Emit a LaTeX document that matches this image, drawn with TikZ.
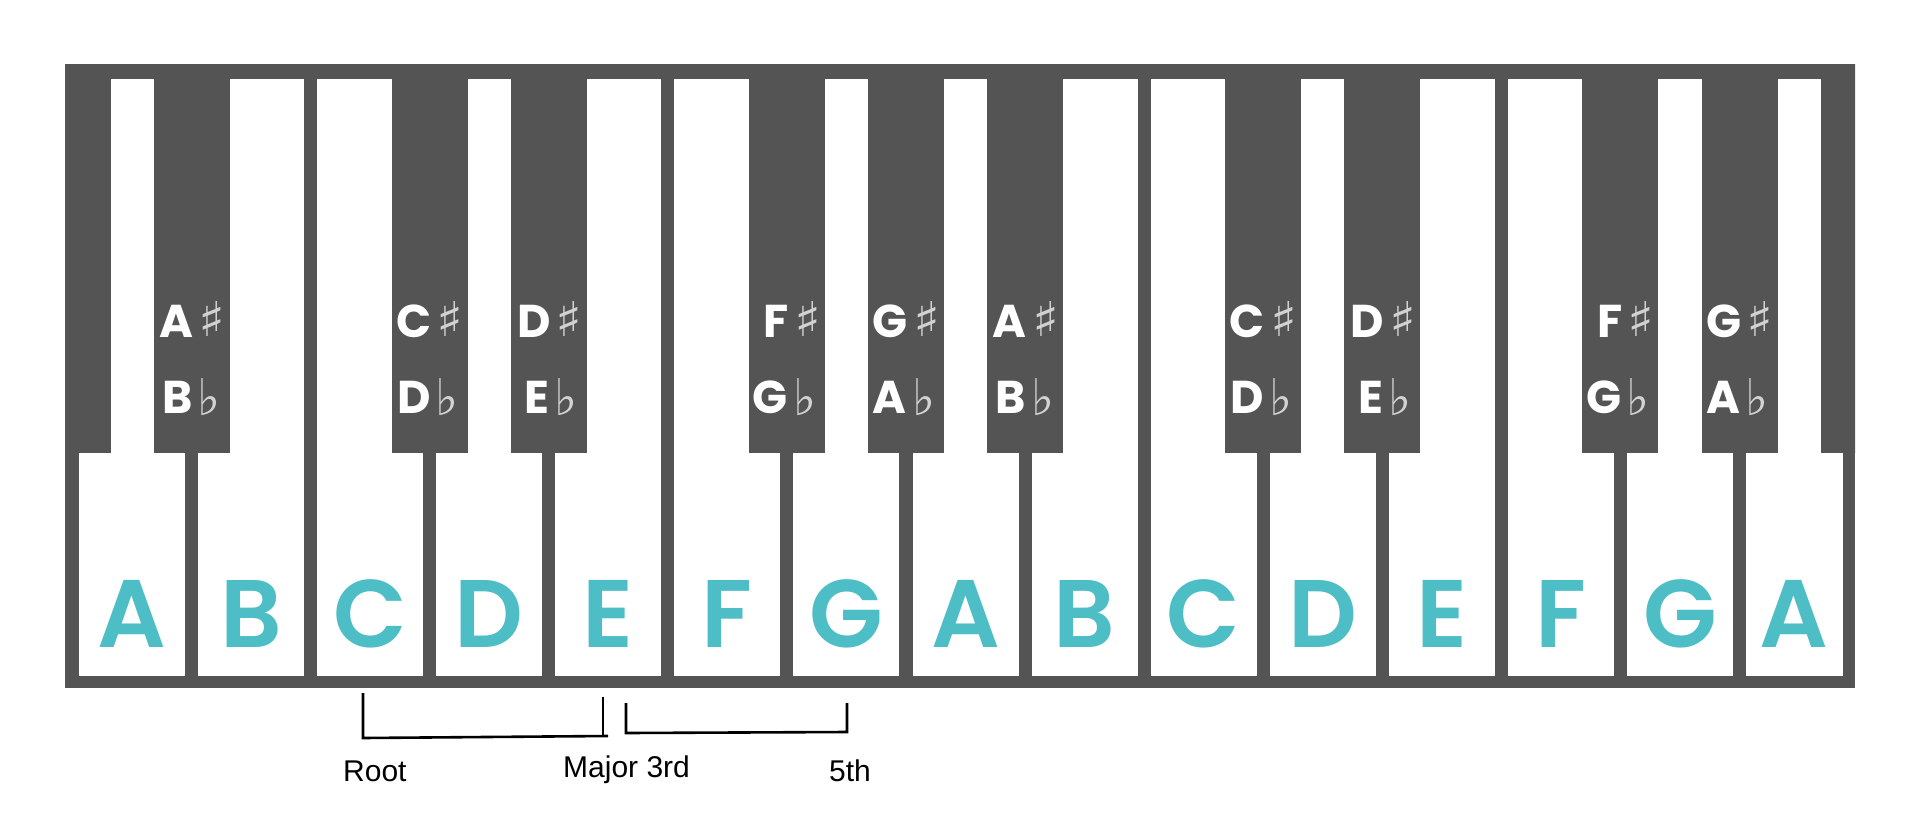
\documentclass[tikz,border=0pt]{standalone}
\usepackage{fontspec}
\setmainfont{Liberation Sans}
\newfontfamily\pop{Poppins SemiBold}
\newfontfamily\popb{Poppins}
\newfontfamily\dvs{DejaVu Sans}
\definecolor{keydark}{HTML}{545454}
\definecolor{noteteal}{HTML}{4DBDC6}
\definecolor{accgray}{HTML}{D2D2D2}
\begin{document}
\begin{tikzpicture}[x=1pt,y=-1pt,
  whitekey/.style={fill=white},
  blackkey/.style={fill=keydark},
  wlabel/.style={anchor=base,inner sep=0pt,text=noteteal,font=\pop\fontsize{96}{96}\selectfont},
  slabel/.style={anchor=base east,inner sep=0pt,text=white,font=\popb\bfseries\fontsize{46}{46}\selectfont},
  sym/.style={anchor=south west,inner sep=0pt,text=accgray,font=\dvs\fontsize{40}{40}\selectfont},
  bracket/.style={line width=2.6pt,black},
  caption/.style={anchor=base west,inner sep=0pt,font=\fontsize{30}{30}\selectfont}]
\useasboundingbox (0,0) rectangle (1930,828);
\fill[white] (0,0) rectangle (1930,828);
% frame
\fill[keydark] (65,64) rectangle (1855,688);
% white keys
\foreach \i in {0,...,13} \fill[whitekey] ({79+119.07*\i},79) rectangle ({79+119.07*\i+106},676);
\fill[whitekey] (1746,79) rectangle (1843,676);
% black keys
\begin{scope}
\clip (65,64) rectangle (1855,688);
\foreach \k in {0,1,3,4,6,7,8,10,11,13,14,15}
  \fill[blackkey] ({79+119.07*\k-6.5-38},64) rectangle ({79+119.07*\k-6.5+38},453);
\end{scope}
% sharp / flat labels
\foreach \k/\s/\f in {1/A/B,3/C/D,4/D/E,6/F/G,7/G/A,8/A/B,10/C/D,11/D/E,13/F/G,14/G/A}{
  \node[slabel] (sh\k) at ({79+119.07*\k-6.5+2},337) {\s};
  \node[sym] (shs\k) at ({79+119.07*\k-6.5+7},337) {\resizebox{27pt}{35pt}{♯}};
  \node[slabel] (fl\k) at ({79+119.07*\k-6.5+1},413) {\f};
  \node[sym] (fls\k) at ({79+119.07*\k-6.5+6},416) {\resizebox{23pt}{37pt}{♭}};
}
% white key letters
\foreach \i/\n in {0/A,1/B,2/C,3/D,4/E,5/F,6/G,7/A,8/B,9/C,10/D,11/E,12/F,13/G}
  \node[wlabel] (w\i) at ({79+119.07*\i+53},647) {\n};
\node[wlabel] (w14) at (1794,647) {A};
% brackets
\coordinate (r1) at (363,693);
\coordinate (r2) at (363,738);
\coordinate (r3) at (608,736);
\coordinate (m1) at (603,697);
\coordinate (m2) at (603,736);
\coordinate (f1) at (626,703);
\coordinate (f2) at (626,733);
\coordinate (f3) at (847,732);
\coordinate (f4) at (847,703);
\draw[bracket] (r1) -- (r2) -- (r3);
\draw[bracket] (m1) -- (m2);
\draw[bracket] (f1) -- (f2) -- (f3) -- (f4);
\node[caption] (root) at (343,781) {Root};
\node[caption] (maj) at (563,777) {Major 3rd};
\node[caption] (fifth) at (829,781) {5th};
\end{tikzpicture}
\end{document}
